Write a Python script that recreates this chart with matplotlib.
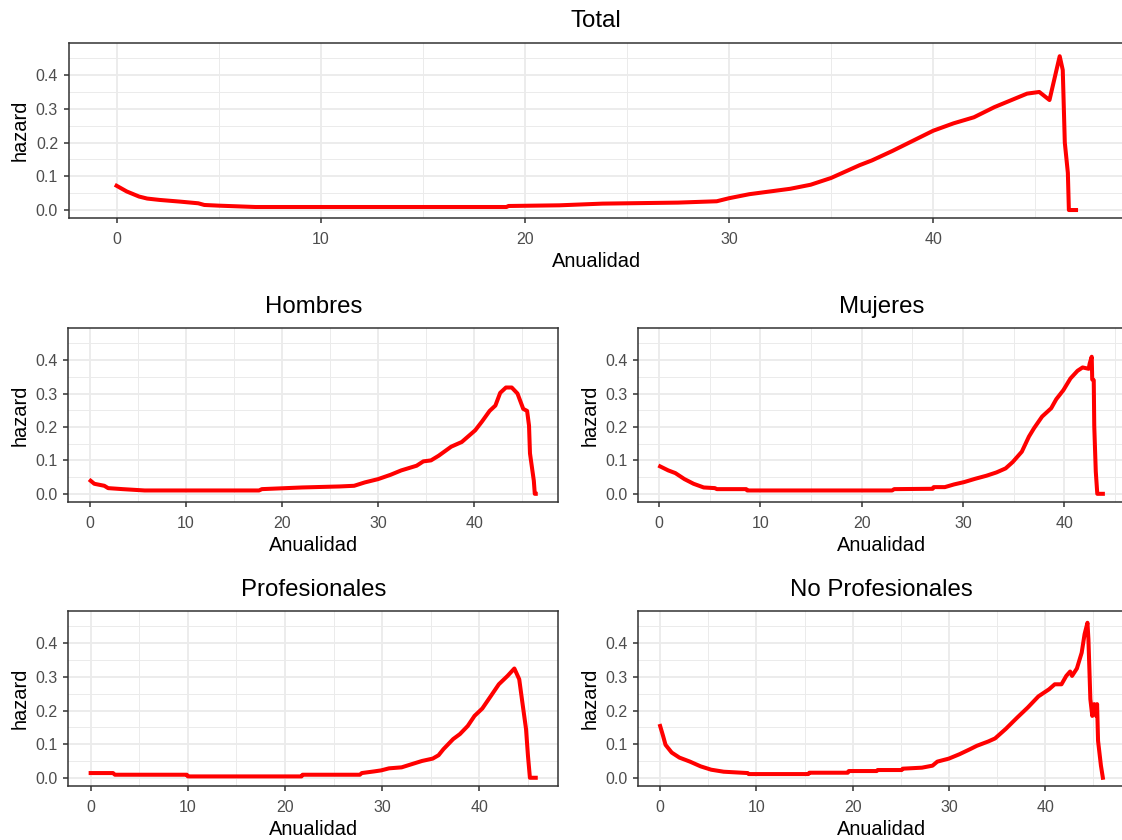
import numpy as np
import matplotlib
matplotlib.use("Agg")
from matplotlib import pyplot as plt
from matplotlib.ticker import MultipleLocator

plt.rcParams['font.family'] = ['Liberation Sans', 'DejaVu Sans']

# hazard curves (x = Anualidad, y = hazard)
total_t = [0, 0.5, 1.1, 1.5, 2.1, 3.1, 4.0, 4.3, 5.0, 6.8, 10, 15, 19.1, 19.2, 21.7, 23.8,
           27.5, 29.4, 30, 31, 32, 33, 34, 35, 36.4, 37, 38, 39, 40, 41, 42,
           43, 44, 44.6, 45.2, 45.7, 46.2, 46.35, 46.45, 46.6, 46.65, 47]
total_h = [0.072, 0.055, 0.040, 0.034, 0.030, 0.025, 0.020, 0.015, 0.013, 0.009, 0.009, 0.009, 0.009, 0.012, 0.014, 0.019,
           0.022, 0.026, 0.035, 0.047, 0.055, 0.063, 0.075, 0.095, 0.133, 0.147, 0.175, 0.205, 0.235, 0.257, 0.275,
           0.305, 0.33, 0.345, 0.35, 0.326, 0.456, 0.415, 0.2, 0.11, 0.0, 0.0]

hombres_t = [0.08, 0.46, 1.5, 1.9, 3.4, 5.7, 10, 17.6, 17.9, 22.1, 26, 27.5, 28.6, 30, 31.3,
             32.4, 34, 34.7, 35.5, 36.3, 37.6, 38.7, 40.1, 40.8, 41.6, 42.2, 42.7, 43.3,
             43.9, 44.5, 45.1, 45.5, 45.7, 45.8, 46.2, 46.3, 46.4]
hombres_h = [0.039, 0.030, 0.024, 0.017, 0.014, 0.010, 0.010, 0.010, 0.014, 0.019, 0.022, 0.024, 0.034, 0.044, 0.057,
             0.070, 0.084, 0.097, 0.100, 0.114, 0.141, 0.155, 0.190, 0.216, 0.248, 0.264, 0.302, 0.318,
             0.318, 0.300, 0.254, 0.248, 0.204, 0.121, 0.039, 0.0, 0.0]

mujeres_t = [0.1, 0.9, 1.6, 2.5, 3.4, 4.4, 5.5, 5.7, 8.6, 8.7, 15, 23, 23.2, 27, 27.1, 28.2,
             29.1, 30.1, 31.2, 32.3, 33.3, 34.2, 34.9, 35.8, 36.5, 37, 37.8, 38.7, 39.2,
             39.9, 40.6, 41.3, 41.8, 42.4, 42.5, 42.7, 42.75, 42.9, 42.95, 43.1, 43.25, 43.8]
mujeres_h = [0.082, 0.070, 0.062, 0.044, 0.030, 0.019, 0.017, 0.014, 0.014, 0.010, 0.010, 0.010, 0.014, 0.015, 0.020, 0.020,
             0.028, 0.035, 0.045, 0.054, 0.064, 0.076, 0.095, 0.126, 0.171, 0.196, 0.231, 0.256, 0.283,
             0.310, 0.345, 0.368, 0.378, 0.374, 0.390, 0.410, 0.342, 0.340, 0.203, 0.067, 0.0, 0.0]

prof_t = [0, 2.3, 2.5, 9.9, 10, 21.7, 21.8, 27.7, 27.9, 29.2, 29.9, 30.7, 32, 33.1, 34.1,
          35.2, 35.8, 36.3, 37.3, 38, 38.8, 39.5, 40.3, 41.2, 42, 42.9, 43.6, 44.1,
          44.4, 44.8, 45, 45.2, 45.8]
prof_h = [0.014, 0.014, 0.009, 0.009, 0.004, 0.004, 0.009, 0.009, 0.014, 0.019, 0.022, 0.028, 0.031, 0.041, 0.050,
          0.057, 0.067, 0.085, 0.115, 0.130, 0.154, 0.184, 0.206, 0.244, 0.278, 0.303, 0.325, 0.293,
          0.229, 0.145, 0.065, 0.0, 0.0]

noprof_t = [0, 0.3, 0.56, 1.2, 2, 3.1, 4.2, 5.3, 6.6, 9.1, 9.2, 15.4, 15.5, 19.5, 19.6, 22.5,
            22.6, 25.1, 25.2, 27.2, 28.3, 28.8, 30, 31.1, 32.2, 32.9, 34.1, 34.8, 35.9,
            37.1, 38.2, 39.3, 40.4, 41, 41.7, 42.2, 42.6, 42.8, 43.3, 43.8, 44.1, 44.4,
            44.5, 44.6, 44.7, 44.9, 45.1, 45.3, 45.4, 45.5, 45.8, 46]
noprof_h = [0.154, 0.125, 0.098, 0.075, 0.060, 0.048, 0.034, 0.024, 0.018, 0.014, 0.011, 0.011, 0.015, 0.015, 0.020, 0.020,
            0.023, 0.023, 0.027, 0.030, 0.036, 0.048, 0.057, 0.070, 0.085, 0.095, 0.108, 0.117, 0.145,
            0.179, 0.209, 0.242, 0.263, 0.278, 0.278, 0.303, 0.316, 0.303, 0.325, 0.372, 0.427, 0.461,
            0.412, 0.323, 0.234, 0.184, 0.219, 0.184, 0.219, 0.110, 0.036, 0.0]

titles = ["Total", "Hombres", "Mujeres", "Profesionales", "No Profesionales"]
series = [(total_t, total_h), (hombres_t, hombres_h), (mujeres_t, mujeres_h),
          (prof_t, prof_h), (noprof_t, noprof_h)]

W, H = 1122, 840
# panel boxes in pixels: left, right, top, bottom
boxes = [(68.6, 1124, 42.7, 218.3),
         (68.4, 558, 328, 502),
         (638, 1125, 328, 502),
         (68.4, 558, 611, 786),
         (638, 1125, 611, 786)]

fig = plt.figure(figsize=(W / 100, H / 100), dpi=100)

for title, (t, h), (l, r, top, bot) in zip(titles, series, boxes):
    ax = fig.add_axes([l / W, 1 - bot / H, (r - l) / W, (bot - top) / H])
    ax.plot(t, h, color='#FF0000', linewidth=2.9, solid_joinstyle='round')
    span = max(t) - min(t)
    ax.set_xlim(min(t) - 0.05 * span, max(t) + 0.05 * span)
    ax.set_ylim(-0.0245, 0.496)
    ax.xaxis.set_major_locator(MultipleLocator(10))
    ax.xaxis.set_minor_locator(MultipleLocator(5))
    ax.yaxis.set_major_locator(MultipleLocator(0.1))
    ax.yaxis.set_minor_locator(MultipleLocator(0.05))
    ax.yaxis.set_major_formatter(matplotlib.ticker.FormatStrFormatter('%.1f'))
    ax.grid(which='major', color='#EBEBEB', linewidth=1.3)
    ax.grid(which='minor', color='#EBEBEB', linewidth=0.7)
    ax.set_axisbelow(True)
    for s in ax.spines.values():
        s.set_color('#333333')
        s.set_linewidth(1.1)
    ax.tick_params(which='major', length=3.6, width=1.1, color='#333333',
                   labelcolor='#4D4D4D', labelsize=11.5)
    ax.tick_params(axis='x', which='major', pad=6.5)
    ax.tick_params(axis='y', which='major', pad=4)
    ax.tick_params(which='minor', length=0)
    ax.set_title(title, fontsize=17.3, pad=11)
    ax.set_xlabel('Anualidad', fontsize=14.4, labelpad=3.5)
    ax.set_ylabel('hazard', fontsize=14.4, labelpad=4)

fig.savefig('out.png', dpi=100)
